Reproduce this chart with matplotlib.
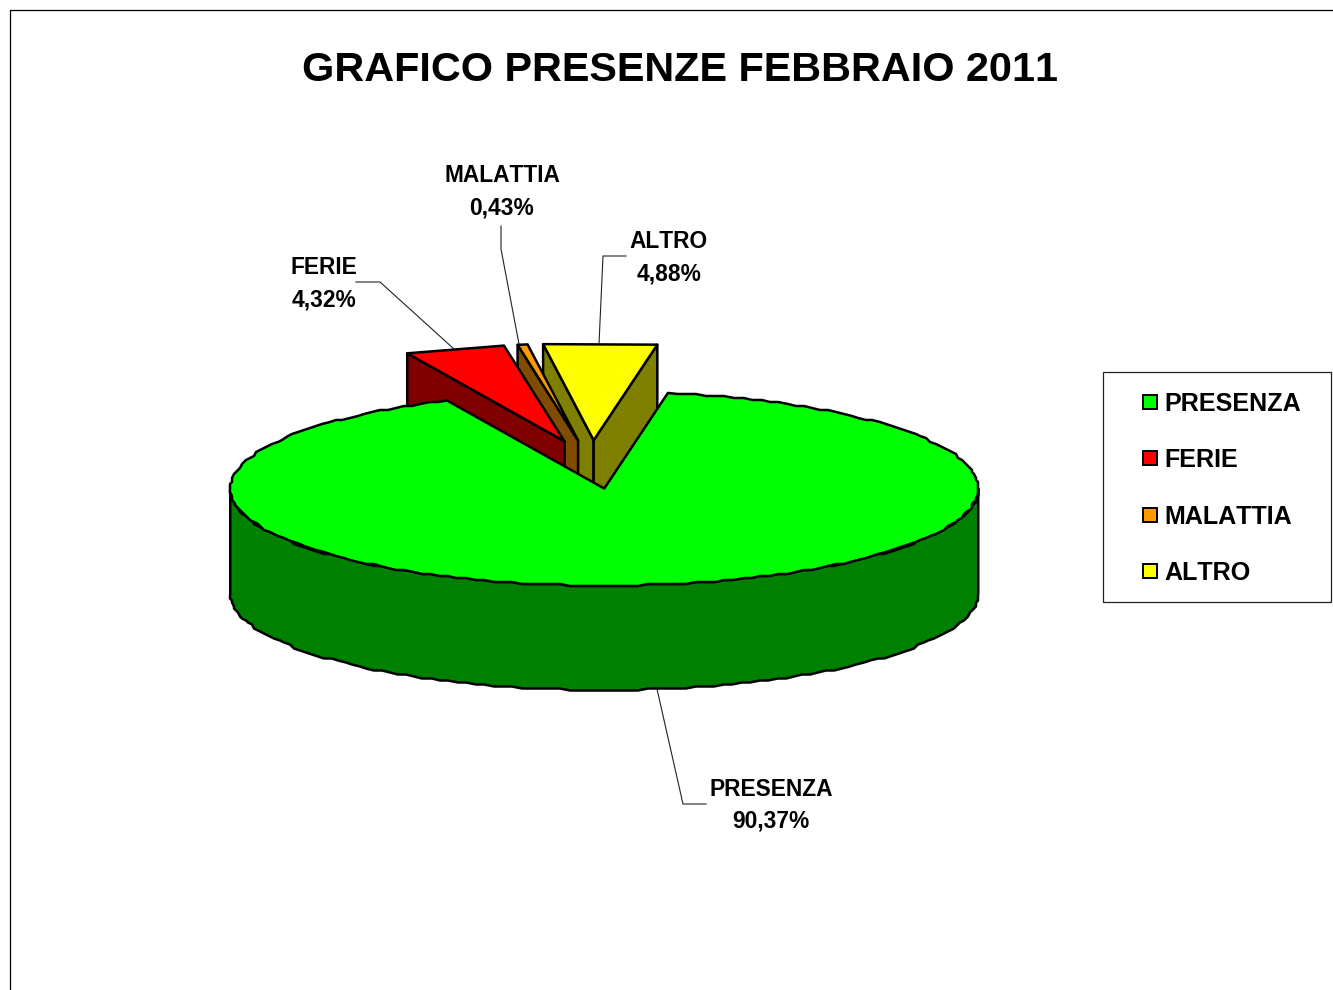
import numpy as np
import matplotlib as mpl
mpl.use('Agg')
import matplotlib.pyplot as plt
from matplotlib.patches import Polygon, Rectangle

mpl.rcParams['font.family'] = ['Liberation Sans', 'DejaVu Sans']
mpl.rcParams['font.weight'] = 'bold'
mpl.rcParams['text.kerning_factor'] = 6

title = 'GRAFICO PRESENZE FEBBRAIO 2011'
categories = ['PRESENZA', 'FERIE', 'MALATTIA', 'ALTRO']
values = [90.37, 4.32, 0.43, 4.88]
value_labels = ['90,37%', '4,32%', '0,43%', '4,88%']
top_colors = ['#00ff00', '#ff0000', '#ff9900', '#ffff00']
side_colors = ['#008000', '#800000', '#804c00', '#808000']

# pie geometry, in pixels of the 1333x990 picture
cx, cy = 592, 464.5
rx, ry = 374, 97
depth = 104.5
explode = 0.25
start_angle = 80.2
edge_lw = 1.8

# label centres and leader lines
label_xy = {'PRESENZA': (771, 805), 'FERIE': (324, 284),
            'MALATTIA': (502, 192), 'ALTRO': (669, 258)}
leaders = {'PRESENZA': [(657, 689), (683, 804), (706, 804)],
           'FERIE': [(356, 282), (380, 282), (454, 349)],
           'MALATTIA': [(501, 226), (501, 249), (519, 344)],
           'ALTRO': [(626, 256), (603, 256), (599, 344)]}
legend_y = [402, 458, 515, 571]


def to_xy(x0, y0, ang):
    # y axis is inverted, so sin goes with a minus
    rad = np.radians(ang)
    return x0 + rx * np.cos(rad), y0 - ry * np.sin(rad)


def arc(x0, y0, a1, a2):
    span = abs(a2 - a1)
    # short arcs stay one straight chord, like the original
    n = 2 if span < 20 else int(span / 1.5) + 2
    xs, ys = to_xy(x0, y0, np.linspace(a1, a2, n))
    pts = np.column_stack([xs, ys])
    # snap to a coarse grid for the rough edge, ends stay exact
    pts[1:-1] = np.round(pts[1:-1] / 2) * 2
    return pts


def poly(ax, pts, color):
    ax.add_patch(Polygon(pts, closed=True, facecolor=color, edgecolor='black',
                         linewidth=edge_lw, joinstyle='round'))


def draw_slice(ax, a_start, a_end, top, side):
    # a_start > a_end, the pie runs clockwise
    mid = np.radians((a_start + a_end) / 2)
    x0 = cx + explode * rx * np.cos(mid)
    y0 = cy - explode * ry * np.sin(mid)
    apex = np.array([x0, y0])
    down = np.array([0, depth])

    # radial faces, only those turned to the viewer
    if np.cos(np.radians(a_start)) < 0:
        p = np.array(to_xy(x0, y0, a_start))
        poly(ax, [apex, p, p + down, apex + down], side)
    if np.cos(np.radians(a_end)) > 0:
        p = np.array(to_xy(x0, y0, a_end))
        poly(ax, [apex, p, p + down, apex + down], side)

    # outer wall on the front half
    lo, hi = max(a_end, -180), min(a_start, 0)
    if hi > lo:
        rim = arc(x0, y0, hi, lo)
        poly(ax, np.vstack([rim, rim[::-1] + down]), side)

    poly(ax, np.vstack([apex, arc(x0, y0, a_start, a_end)]), top)


fig = plt.figure(figsize=(13.33, 9.9), dpi=100)
ax = fig.add_axes([0, 0, 1, 1])
ax.set_xlim(0, 1333)
ax.set_ylim(990, 0)
ax.axis('off')

# outer chart border, only left and top fall inside the picture
ax.plot([10, 10, 1333], [990, 10, 10], color='black', lw=0.9)

ax.text(680, 70, title, ha='center', va='center', fontsize=29.75)

angles = start_angle - np.cumsum([0] + values) * 3.6
# small slices from right to left, the big one covers them all
for i in [3, 2, 1, 0]:
    draw_slice(ax, angles[i], angles[i + 1], top_colors[i], side_colors[i])

for name, val in zip(categories, value_labels):
    x, y = label_xy[name]
    ax.text(x, y, name + '\n' + val, ha='center', va='center', fontsize=16.4,
            linespacing=1.5)
    pts = np.array(leaders[name])
    ax.plot(pts[:, 0], pts[:, 1], color='#222222', lw=0.8)

# legend
ax.add_patch(Rectangle((1103, 372), 228, 230, facecolor='white',
                       edgecolor='#222222', linewidth=0.9))
for name, col, y in zip(categories, top_colors, legend_y):
    ax.add_patch(Rectangle((1143, y - 7), 14, 14, facecolor=col,
                           edgecolor='black', linewidth=1.4))
    ax.text(1164, y + 2, name, ha='left', va='center', fontsize=18.1)

fig.savefig('out.png', dpi=100)
